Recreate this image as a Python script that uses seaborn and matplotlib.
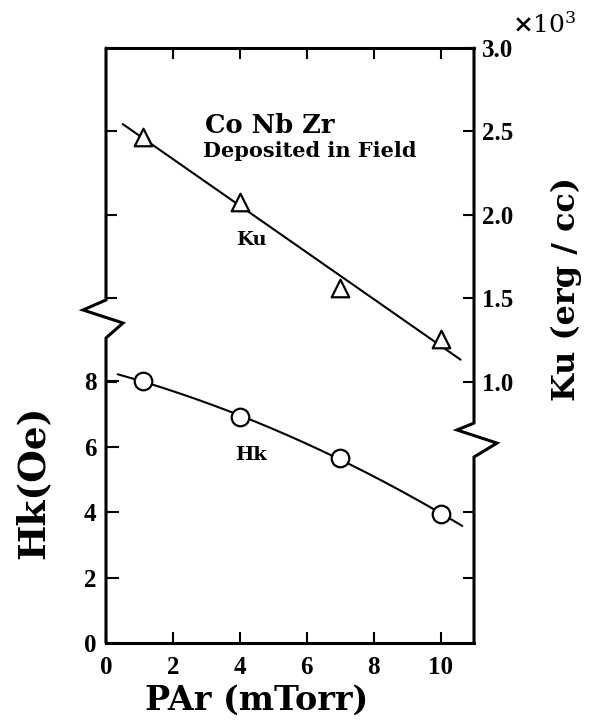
import numpy as np
import pandas as pd
import matplotlib
matplotlib.use('Agg')
import matplotlib.pyplot as plt
from matplotlib.ticker import FormatStrFormatter
from matplotlib.lines import Line2D
import seaborn as sns

# ---- data ----
par = [1.1, 4.0, 7.0, 10.0]          # PAr (mTorr)
hk = [8.0, 6.9, 5.65, 3.95]          # Hk (Oe)
ku = [2.47, 2.08, 1.56, 1.26]        # Ku (x10^3 erg/cc)

x_ticks = [0, 2, 4, 6, 8, 10]
hk_ticks = [0, 2, 4, 6, 8]
ku_ticks = [1.0, 1.5, 2.0, 2.5, 3.0]

sns.set_theme(style='ticks')
plt.rcParams['font.family'] = ['DejaVu Serif']
plt.rcParams['font.weight'] = 'bold'
plt.rcParams['mathtext.fontset'] = 'dejavuserif'
for k in ['text.color', 'axes.labelcolor', 'xtick.color', 'ytick.color',
          'xtick.labelcolor', 'ytick.labelcolor', 'axes.edgecolor']:
    plt.rcParams[k] = 'black'

fig = plt.figure(figsize=(5.92, 7.25), dpi=100)
ax = fig.add_axes([106/592, 82/725, 368/592, 595/725])
ax2 = ax.twinx()

df = pd.DataFrame({'PAr': par, 'Hk': hk, 'Ku': ku})

# fitted guide curves (derived from the data)
hk_coef = np.polyfit(df['PAr'], df['Hk'], 2)
ku_coef = np.polyfit(df['PAr'], df['Ku'], 1)
xs_hk = np.linspace(0.35, 10.65, 200)
xs_ku = np.linspace(0.5, 10.6, 200)

sns.lineplot(x=xs_hk, y=np.polyval(hk_coef, xs_hk), ax=ax, color='black', lw=1.5, zorder=2)
sns.scatterplot(data=df, x='PAr', y='Hk', ax=ax, marker='o', s=160, facecolor='white',
                edgecolor='black', linewidth=1.6, zorder=3)
sns.lineplot(x=xs_ku, y=np.polyval(ku_coef, xs_ku), ax=ax2, color='black', lw=1.5, zorder=2)
sns.scatterplot(data=df, x='PAr', y='Ku', ax=ax2, marker='^', s=160, facecolor='white',
                edgecolor='black', linewidth=1.6, zorder=3)

ax.set_xlim(0, 11)
ax.set_ylim(0, 18.17)
ax2.set_ylim(-0.563, 3.0)

ax.set_xlabel('')
ax.set_ylabel('')
ax2.set_ylabel('')

tick_font = {'family': 'Liberation Serif', 'weight': 'bold', 'size': 18}

ax.set_xticks(x_ticks)
ax.tick_params(axis='x', which='major', direction='in', top=True, bottom=True,
               labeltop=False, length=8, width=1.5, pad=9)
ax.set_yticks(hk_ticks)
ax.tick_params(axis='y', which='major', direction='in', left=True, right=False,
               labelleft=True, length=9, width=1.5, pad=7)
ax.yaxis.remove_overlapping_locs = False
ax.set_yticks([2, 4], minor=True)
ax.tick_params(axis='y', which='minor', direction='in', left=False, right=True,
               length=8, width=1.5)

ax2.set_yticks(ku_ticks)
ax2.yaxis.set_major_formatter(FormatStrFormatter('%.1f'))
ax2.tick_params(axis='y', direction='in', left=True, right=True, labelleft=False,
                labelright=True, length=8, width=1.5, pad=6)

for lab in ax.get_xticklabels() + ax.get_yticklabels() + ax2.get_yticklabels():
    lab.set_fontproperties(tick_font)

for sp in ['left', 'right']:
    ax.spines[sp].set_visible(False)
for sp in ax2.spines.values():
    sp.set_visible(False)
for sp in ['top', 'bottom']:
    ax.spines[sp].set_linewidth(2.2)
    ax.spines[sp].set_color('black')

# broken axis spines
lx = [0, 0, -0.0625, 0.0462, 0, 0]
ly = [1, 0.5765, 0.5597, 0.5378, 0.5126, 0]
rx = [1, 1, 0.9538, 1.0625, 1, 1]
ry = [1, 0.3697, 0.358, 0.336, 0.3126, 0]
for xx, yy in [(lx, ly), (rx, ry)]:
    ax.add_line(Line2D(xx, yy, transform=ax.transAxes, color='black', lw=2.2,
                       clip_on=False, solid_joinstyle='miter', zorder=5))

# annotations
ax.text(2.96, 15.57, 'Co Nb Zr', fontsize=18.5, ha='left', va='baseline')
ax.text(2.9, 14.84, 'Deposited in Field', fontsize=15, ha='left', va='baseline')
ax.text(4.36, 12.3, 'Ku', fontsize=14, ha='center', va='center')
ax.text(4.33, 5.74, 'Hk', fontsize=14, ha='center', va='center')

fig.text(33/592, 1 - 482/725, 'Hk(Oe)', fontsize=27, rotation=90, ha='center', va='center')
fig.text(566/592, 1 - 289/725, 'Ku (erg / cc)', fontsize=23, rotation=90, ha='center', va='center')
fig.text(257/592, 1 - 700/725, 'PAr (mTorr)', fontsize=24, ha='center', va='center')
fig.text(512/592, 1 - 33/725, r'$\times\mathregular{10^{3}}$', fontsize=18,
         fontweight='normal', family='DejaVu Serif', ha='left', va='baseline')

fig.savefig('out.png', dpi=100)
